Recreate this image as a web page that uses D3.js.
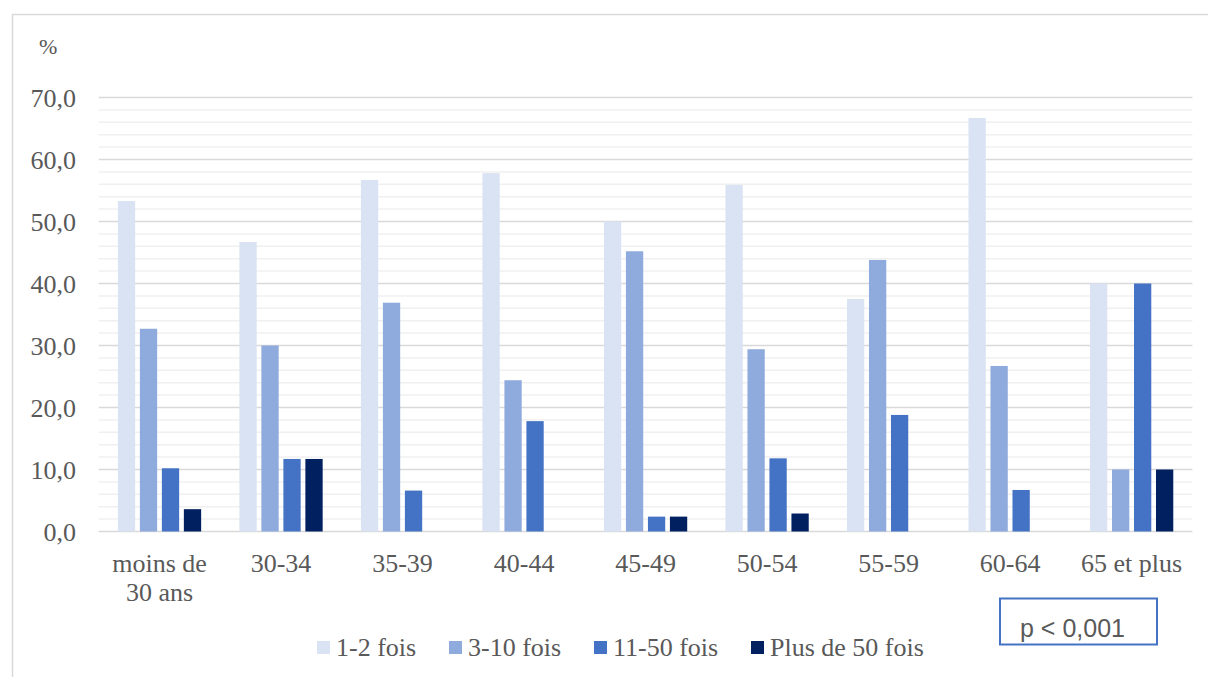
<!DOCTYPE html>
<html>
<head>
<meta charset="utf-8">
<script src="https://cdn.jsdelivr.net/npm/d3@7"></script>
<style>
  html, body { margin: 0; padding: 0; background: #fff; }
  svg { display: block; }
</style>
</head>
<body>
<svg id="chart" width="1208" height="677"></svg>
<script>
// Age groups along the x axis (multi-line labels split on "\n")
const categories = ["moins de\n30 ans", "30-34", "35-39", "40-44", "45-49", "50-54", "55-59", "60-64", "65 et plus"];
const seriesNames = ["1-2 fois", "3-10 fois", "11-50 fois", "Plus de 50 fois"];
const seriesColors = ["#DAE3F3", "#8FAADC", "#4472C4", "#002060"];

// Percentage per age group for each frequency class
const fois1_2   = [53.3, 46.7, 56.7, 57.8, 50.0, 55.9, 37.5, 66.7, 40.0];
const fois3_10  = [32.7, 30.0, 36.9, 24.4, 45.2, 29.4, 43.8, 26.7, 10.0];
const fois11_50 = [10.2, 11.7, 6.6, 17.8, 2.4, 11.8, 18.8, 6.7, 40.0];
const fois50p   = [3.6, 11.7, 0, 0, 2.4, 2.9, 0, 0, 10.0];
const seriesValues = [fois1_2, fois3_10, fois11_50, fois50p];

const yTicks = [0, 10, 20, 30, 40, 50, 60, 70];
const yMinor = d3.range(0, 70, 2);
const pLabel = "p < 0,001";

const svg = d3.select("#chart");
const SERIF = "Liberation Serif";
const SANS = "Liberation Sans";
const textColor = "#595959";

// Outer chart frame
svg.append("rect")
  .attr("x", 12.5).attr("y", 14.5)
  .attr("width", 1220).attr("height", 700)
  .attr("fill", "none").attr("stroke", "#d9d9d9").attr("stroke-width", 1.5);

const plot = { left: 98.75, right: 1192.4, top: 97.5, bottom: 531.5 };

const y = d3.scaleLinear().domain([0, 70]).range([plot.bottom, plot.top]);
const x0 = d3.scaleBand().domain(categories)
  .range([plot.left, plot.right]).paddingInner(0.276).paddingOuter(0.138);
const x1 = d3.scaleBand().domain(seriesNames)
  .range([0, x0.bandwidth()]).paddingInner(0.214).paddingOuter(0.107);

// Minor gridlines
svg.append("g").selectAll("line")
  .data(yMinor.filter(v => v % 10 !== 0))
  .join("line")
  .attr("x1", plot.left).attr("x2", plot.right)
  .attr("y1", d => y(d)).attr("y2", d => y(d))
  .attr("stroke", "#f0f0f0").attr("stroke-width", 1.5);

// Major gridlines
svg.append("g").selectAll("line")
  .data(yTicks)
  .join("line")
  .attr("x1", plot.left).attr("x2", plot.right)
  .attr("y1", d => y(d)).attr("y2", d => y(d))
  .attr("stroke", "#d9d9d9").attr("stroke-width", 1.5);

// Y axis tick labels
const fmt = v => v.toFixed(1).replace(".", ",");
svg.append("g").selectAll("text")
  .data(yTicks)
  .join("text")
  .style("font-family", SERIF)
  .attr("x", 76).attr("y", d => y(d))
  .attr("dy", "0.36em")
  .attr("text-anchor", "end")
  .attr("font-size", 26)
  .attr("fill", textColor)
  .text(fmt);

// Unit label
svg.append("text")
  .style("font-family", SERIF)
  .attr("x", 39).attr("y", 54)
  .attr("font-size", 22)
  .attr("fill", textColor)
  .text("%");

// Bars
const groups = svg.append("g").selectAll("g")
  .data(categories)
  .join("g")
  .attr("transform", d => `translate(${x0(d)},0)`);

groups.selectAll("rect")
  .data((c, i) => seriesNames.map((s, k) => ({ s, k, v: seriesValues[k][i] })))
  .join("rect")
  .filter(d => d.v > 0)
  .attr("x", d => x1(d.s))
  .attr("width", x1.bandwidth())
  .attr("y", d => y(d.v))
  .attr("height", d => y(0) - y(d.v))
  .attr("fill", d => seriesColors[d.k]);

// Category labels
svg.append("g").selectAll("text")
  .data(categories)
  .join("text")
  .style("font-family", SERIF)
  .attr("x", d => x0(d) + x0.bandwidth() / 2)
  .attr("y", 572)
  .attr("text-anchor", "middle")
  .attr("font-size", 26)
  .attr("fill", textColor)
  .each(function (d) {
    const t = d3.select(this);
    d.split("\n").forEach((line, i) => {
      t.append("tspan")
        .attr("x", x0(d) + x0.bandwidth() / 2)
        .attr("dy", i === 0 ? 0 : 29)
        .text(line);
    });
  });

// Legend
const legendX = [317, 449, 594, 751];
const legend = svg.append("g").selectAll("g")
  .data(seriesNames)
  .join("g")
  .attr("transform", (d, i) => `translate(${legendX[i]},641)`);
legend.append("rect")
  .attr("width", 13).attr("height", 13)
  .attr("fill", (d, i) => seriesColors[i]);
legend.append("text")
  .style("font-family", SERIF)
  .attr("x", 19).attr("y", 15)
  .attr("font-size", 26)
  .attr("fill", textColor)
  .text(d => d);

// Significance box
svg.append("rect")
  .attr("x", 1000).attr("y", 598.5)
  .attr("width", 157).attr("height", 46)
  .attr("fill", "#fff").attr("stroke", "#4472C4").attr("stroke-width", 2);
svg.append("text")
  .style("font-family", SANS)
  .attr("x", 1020).attr("y", 637)
  .attr("font-size", 25)
  .attr("fill", textColor)
  .text(pLabel);
</script>
</body>
</html>
